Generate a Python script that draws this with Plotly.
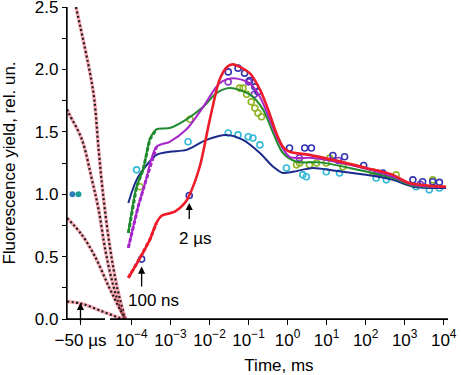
import plotly.graph_objects as go

# ---------------- data ----------------
# fitted curves (time in ms, fluorescence yield)
red_t = [8.3e-5, 1.66e-4, 2.95e-4, 4.37e-4, 5.9e-4, 1.29e-3, 2.34e-3, 3.02e-3, 5.6e-3, 1.02e-2,
         1.82e-2, 2.8e-2, 3.98e-2, 0.107, 0.195, 0.316, 0.513, 0.759, 1.12, 3.63, 14.5, 102, 501, 1318, 11480]
red_y = [0.33, 0.49, 0.635, 0.77, 0.827, 0.86, 0.93, 0.99, 1.22, 1.60,
         1.92, 2.02, 2.04, 1.97, 1.84, 1.68, 1.49, 1.38, 1.34, 1.315, 1.275, 1.21, 1.155, 1.09, 1.06]

mag_t = [8.3e-5, 1.48e-4, 2.24e-4, 4.37e-4, 9.5e-4, 2.57e-3, 6.9e-3, 1.82e-2, 3.98e-2, 0.107,
         0.195, 0.347, 0.631, 1.12, 4.47, 38.9, 501, 1622, 11480]
mag_y = [0.57, 0.90, 1.09, 1.38, 1.42, 1.52, 1.70, 1.89, 1.93, 1.89,
         1.78, 1.60, 1.41, 1.30, 1.29, 1.235, 1.14, 1.075, 1.057]

grn_t = [8.3e-5, 1.35e-4, 2.0e-4, 2.95e-4, 4.37e-4, 9.5e-4, 2.57e-3, 6.9e-3, 1.51e-2, 3.31e-2,
         0.107, 0.234, 0.427, 0.759, 1.70, 6.6, 38.9, 501, 1622, 11480]
grn_y = [0.69, 1.06, 1.20, 1.44, 1.52, 1.53, 1.60, 1.70, 1.81, 1.85,
         1.80, 1.68, 1.49, 1.33, 1.26, 1.255, 1.21, 1.13, 1.067, 1.06]

nav_t = [8.3e-5, 1.35e-4, 2.7e-4, 4.37e-4, 9.5e-4, 2.57e-3, 8.3e-3, 2.69e-2, 7.2e-2, 0.195,
         0.427, 0.759, 1.38, 4.47, 14.5, 102, 501, 1622, 11480]
nav_y = [0.93, 1.115, 1.25, 1.315, 1.34, 1.355, 1.435, 1.475, 1.435, 1.33,
         1.22, 1.17, 1.18, 1.21, 1.19, 1.155, 1.115, 1.06, 1.05]

# measured points (time in ms)
blue_t = [1.82e-4, 3.02e-3, 3.02e-2, 5.37e-2, 7.9e-2, 0.107, 0.145, 0.174, 1.12, 2.75,
          4.07, 14.5, 28.8, 89, 275, 1622, 2884, 5248, 7762]
blue_y = [0.48, 0.99, 1.98, 2.01, 1.97, 1.91, 1.86, 1.82, 1.37, 1.37,
          1.37, 1.31, 1.30, 1.23, 1.17, 1.115, 1.10, 1.10, 1.095]

olive_t = [1.66e-4, 3.16e-3, 5.9e-2, 7.2e-2, 8.9e-2, 0.117, 0.145, 0.174, 0.214, 1.70,
           2.04, 3.63, 5.5, 9.8, 12.0, 26.3, 151, 603, 5248]
olive_y = [1.06, 1.60, 1.85, 1.85, 1.80, 1.74, 1.69, 1.65, 1.62, 1.235,
           1.25, 1.235, 1.25, 1.25, 1.29, 1.22, 1.18, 1.155, 1.115]

purp_t = [3.0e-2, 0.10, 0.141, 2.0, 20, 200, 2512]
purp_y = [1.90, 1.90, 1.80, 1.29, 1.27, 1.17, 1.08]

cyan_t = [1.35e-4, 2.82e-3, 3.02e-2, 5.37e-2, 9.8e-2, 0.129, 0.195, 0.933, 2.45, 3.02,
          9.8, 21.4, 186, 339, 1950, 4266, 7762]
cyan_y = [1.195, 1.42, 1.49, 1.475, 1.46, 1.45, 1.395, 1.21, 1.155, 1.14,
          1.18, 1.17, 1.13, 1.115, 1.06, 1.035, 1.05]

# dark levels before the flash (time in µs)
pre_t_us = [-62, -53]
pre_y = [1.0, 1.0]
pre_colors = ["#2f7fb8", "#1f9f9a"]

# dotted decay traces drawn across the axis break (time in ms on the continued log scale)
decA_t = [3.80e-6, 8.71e-6, 1.12e-5, 1.45e-5, 1.95e-5, 2.88e-5, 4.27e-5, 6.31e-5, 7.08e-5]
decA_y = [2.50, 1.97, 1.76, 1.355, 0.955, 0.555, 0.26, 0.048, 0.0]
decB_t = [2.24e-6, 2.57e-6, 5.37e-6, 9.77e-6, 1.45e-5, 2.14e-5, 3.47e-5, 5.75e-5, 7.08e-5]
decB_y = [1.68, 1.64, 1.44, 1.115, 0.875, 0.555, 0.26, 0.048, 0.0]
decC_t = [2.24e-6, 5.37e-6, 1.17e-5, 2.63e-5, 5.13e-5, 7.08e-5]
decC_y = [0.81, 0.675, 0.50, 0.26, 0.075, 0.0]
decD_t = [2.24e-6, 5.37e-6, 1.78e-5, 5.13e-5, 7.08e-5]
decD_y = [0.14, 0.122, 0.061, 0.008, 0.0]

log_ticks = [1e-4, 1e-3, 1e-2, 1e-1, 1, 10, 100, 1000, 10000]
log_ticktext = ["10<sup>−4</sup>", "10<sup>−3</sup>", "10<sup>−2</sup>", "10<sup>−1</sup>",
                "10<sup>0</sup>", "10<sup>1</sup>", "10<sup>2</sup>", "10<sup>3</sup>", "10<sup>4</sup>"]
y_ticks = [0.0, 0.5, 1.0, 1.5, 2.0, 2.5]
y_ticktext = ["0.0", "0.5", "1.0", "1.5", "2.0", "2.5"]

# ---------------- figure ----------------
FONT = "Liberation Sans, Arial, sans-serif"
fig = go.Figure()

curves = [
    (nav_t, nav_y, "#1c2a8c", 0, 2.0),
    (grn_t, grn_y, "#1f8a2e", 5, 2.0),
    (mag_t, mag_y, "#a526c8", 4, 2.0),
    (red_t, red_y, "#ec1c2a", 4, 2.6),
]
markers = [
    (cyan_t, cyan_y, "#33b9d6"),
    (olive_t, olive_y, "#93b526"),
    (purp_t, purp_y, "#8a3cc4"),
    (blue_t, blue_y, "#3434b0"),
]
for (t, y, c) in markers:
    fig.add_trace(go.Scatter(x=t, y=y, mode="markers", xaxis="x2", yaxis="y",
                             marker=dict(symbol="circle-open", size=6, color=c, line=dict(width=1.6)),
                             showlegend=False))
for (t, y, c, n, w) in curves:
    fig.add_trace(go.Scatter(x=t, y=y, mode="lines", xaxis="x2", yaxis="y",
                             line=dict(color=c, width=w, shape="spline", smoothing=0.8),
                             showlegend=False))
    if n:
        fig.add_trace(go.Scatter(x=t[:n], y=y[:n], mode="lines", xaxis="x2", yaxis="y",
                                 line=dict(color=c, width=3, dash="4px,2px"),
                                 showlegend=False))

fig.add_trace(go.Scatter(x=pre_t_us, y=pre_y, mode="markers", xaxis="x", yaxis="y",
                         marker=dict(size=6, color=pre_colors), showlegend=False))

for (t, y) in [(decA_t, decA_y), (decB_t, decB_y), (decC_t, decC_y), (decD_t, decD_y)]:
    fig.add_trace(go.Scatter(x=t, y=y, mode="lines", xaxis="x3", yaxis="y",
                             line=dict(color="rgba(240,90,110,0.5)", width=3.5, shape="spline"),
                             showlegend=False))
    fig.add_trace(go.Scatter(x=t, y=y, mode="lines", xaxis="x3", yaxis="y",
                             line=dict(color="#1a1a1a", width=2.2, dash="2px,2.5px", shape="spline"),
                             showlegend=False))

axis_common = dict(showgrid=False, zeroline=False, showline=True, linecolor="black", linewidth=1.3,
                   ticks="outside", ticklen=5, tickcolor="black", tickwidth=1.2, automargin=False,
                   ticklabeloverflow="allow",
                   tickfont=dict(family=FONT, size=17, color="black"))

fig.update_layout(
    width=461, height=375,
    margin=dict(l=67, r=13, t=7, b=56),
    paper_bgcolor="white", plot_bgcolor="rgba(0,0,0,0)",
    font=dict(family=FONT, size=17, color="black"),
    xaxis=dict(domain=[0, 0.0997], range=[-70, -13.7], anchor="y",
               tickmode="array", tickvals=[-50], ticktext=["−50 µs"], **axis_common),
    xaxis2=dict(domain=[0.1129, 1], type="log", range=[-4.55, 4.11], anchor="y",
                tickmode="array", tickvals=log_ticks, ticktext=log_ticktext,
                title=dict(text="Time, ms", font=dict(family=FONT, size=17)),
                **axis_common),
    xaxis3=dict(domain=[0, 1], type="log", range=[-5.65, 4.11], anchor="y", visible=False),
    yaxis=dict(range=[0, 2.5], anchor="x", tickmode="array", tickvals=y_ticks, ticktext=y_ticktext,
               minor=dict(ticks="outside", dtick=0.25, ticklen=4, tickcolor="black", tickwidth=1.2),
               title=dict(text="Fluorescence yield, rel. un.", font=dict(family=FONT, size=17)),
               **{**axis_common, "ticklen": 4}),
)

# axis lines of the broken x axis and the y axis, as frame decoration
axis_line = dict(type="line", line=dict(color="black", width=1.3), layer="above")
fig.add_shape(xref="paper", yref="paper", x0=0, x1=0, y0=0, y1=1, **axis_line)
fig.add_shape(xref="x domain", yref="paper", x0=0, x1=1, y0=0, y1=0, **axis_line)
fig.add_shape(xref="x2 domain", yref="paper", x0=0, x1=1, y0=0, y1=0, **axis_line)

arrow = dict(showarrow=True, arrowhead=2, arrowsize=1.1, arrowwidth=1.3, arrowcolor="black",
             text=" ", ax=0, font=dict(size=1))
fig.add_annotation(x=-50, y=0.13, xref="x", yref="y", ay=21, **arrow)
fig.add_annotation(x=-3.74, y=0.42, xref="x2", yref="y", ay=22, **arrow)
fig.add_annotation(x=-2.52, y=0.93, xref="x2", yref="y", ay=18, **arrow)
fig.add_annotation(x=-3.425, y=0.15, xref="x2", yref="y", text="100 ns", showarrow=False,
                   font=dict(family=FONT, size=17))
fig.add_annotation(x=-2.376, y=0.643, xref="x2", yref="y", text="2 µs", showarrow=False,
                   font=dict(family=FONT, size=17))

fig.write_html("out.html", config={"displayModeBar": False},
               post_script="document.body.style.margin='0';document.body.style.padding='0';")
